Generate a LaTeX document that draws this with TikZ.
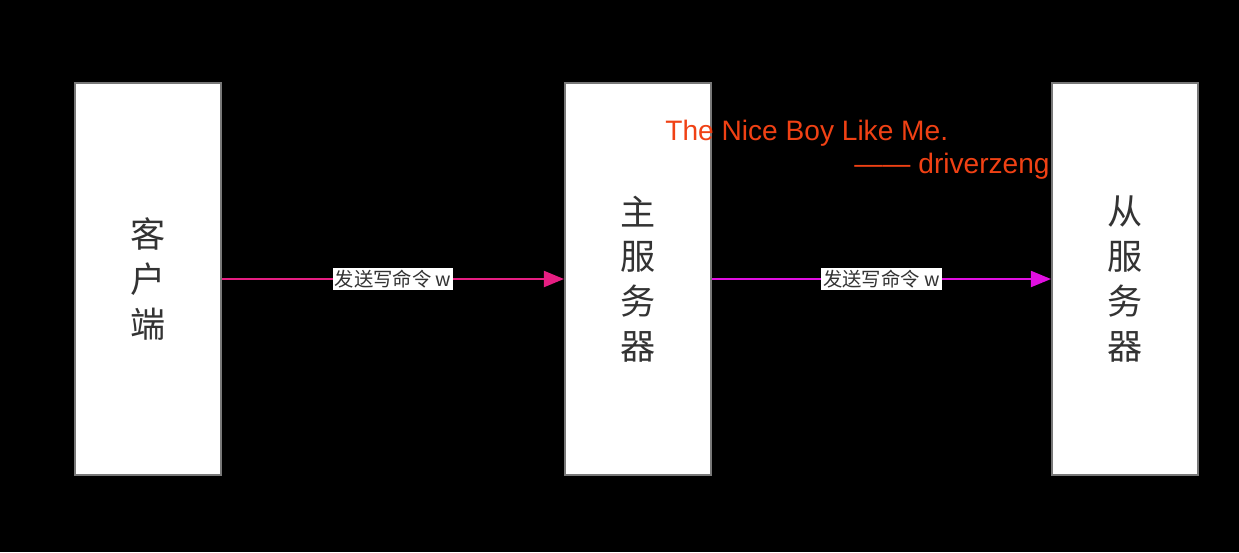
\documentclass[tikz,border=0pt]{standalone}
\usepackage{fontspec}
\setmainfont{Liberation Sans}
\newfontfamily\cjk{Noto Sans CJK SC}
\usetikzlibrary{arrows.meta,positioning}
\definecolor{boxline}{RGB}{120,120,120}
\definecolor{textcol}{RGB}{51,51,51}
\definecolor{pinkcol}{RGB}{230,30,130}
\definecolor{magcol}{RGB}{225,15,225}
\definecolor{signcol}{RGB}{240,65,20}

\begin{document}
\begin{tikzpicture}[
    x=0.02cm, y=-0.02cm,
    >={Triangle[length=0.4cm, width=0.32cm]},
    server/.style={rectangle, minimum width=2.92cm, minimum height=7.84cm, fill=white, draw=boxline, line width=1.2pt, align=center, font=\cjk\fontsize{20}{25.5}\selectfont, text=textcol},
    cmdlabel/.style={fill=white, inner sep=1.2pt, font=\cjk\fontsize{11}{13}\selectfont, text=textcol},
    arrow/.style={->, line width=1.1pt},
    sign/.style={font=\fontsize{16}{19}\selectfont, text=signcol, inner sep=0pt},
]
\fill[black] (0,0) rectangle (1239,552);

\node[server] (client) at (148,279) {客\\户\\端};
\node[server] (master) at (638,279) {主\\服\\务\\器};
\node[server] (slave) at (1125,279) {从\\服\\务\\器};

\draw[arrow, pinkcol] (client) -- node[cmdlabel] {发送写命令 w} (master);
\draw[arrow, magcol] (master) -- node[cmdlabel] {发送写命令 w} (slave);

\node[sign, anchor=west] (quote) at (665,133) {The Nice Boy Like Me.};
\node[sign, anchor=east] (author) at (1050,166) {—— driverzeng};
\end{tikzpicture}
\end{document}
